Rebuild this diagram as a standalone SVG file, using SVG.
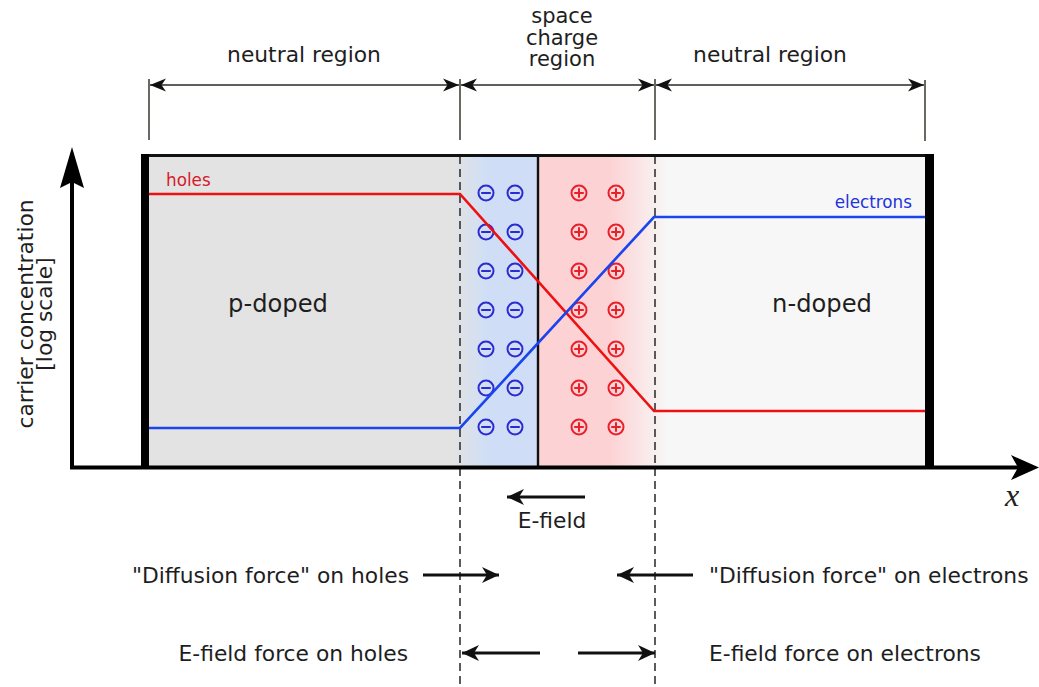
<svg xmlns="http://www.w3.org/2000/svg" width="1039" height="687" viewBox="0 0 1039 687">
<style>
.t{font-family:"DejaVu Sans","Liberation Sans",sans-serif;fill:#1e1e1e}
.t21{font-size:21.8px}
.sc{font-size:21px}
.dim{stroke:#2a2a22;stroke-width:1.4;fill:none}
.dash{stroke:#333;stroke-width:1.6;stroke-dasharray:8,5;fill:none}
.arr{stroke:#111;stroke-width:2.8;fill:none}
.neg{stroke:#2b2bd0;stroke-width:2;fill:none}
.pos{stroke:#e8202a;stroke-width:2;fill:none}
</style>
<defs>
<linearGradient id="gBlue" x1="0" y1="0" x2="1" y2="0">
<stop offset="0" stop-color="#e3e3e3"/>
<stop offset="0.42" stop-color="#cfdef6"/>
<stop offset="1" stop-color="#cfdef6"/>
</linearGradient>
<linearGradient id="gRed" x1="0" y1="0" x2="1" y2="0">
<stop offset="0" stop-color="#fdd2d4"/>
<stop offset="0.55" stop-color="#fdd2d4"/>
<stop offset="1" stop-color="#f7f7f7"/>
</linearGradient>
<marker id="dimA" markerUnits="userSpaceOnUse" markerWidth="20" markerHeight="16" viewBox="-18 -8 20 16" refX="0" refY="0" orient="auto-start-reverse" overflow="visible">
<path d="M0,0 L-16,-6.5 L-11.5,0 L-16,6.5 Z" fill="#111"/>
</marker>
<marker id="fA" markerUnits="userSpaceOnUse" markerWidth="20" markerHeight="18" viewBox="-18 -9 20 18" refX="0" refY="0" orient="auto" overflow="visible">
<path d="M0,0 L-17,-8 L-12,0 L-17,8 Z" fill="#111"/>
</marker>
<g id="minus"><circle r="7.5" class="neg"/><line x1="-4.8" y1="0" x2="4.8" y2="0" class="neg"/></g>
<g id="plus"><circle r="7.5" class="pos"/><line x1="-4.8" y1="0" x2="4.8" y2="0" class="pos"/><line x1="0" y1="-4.8" x2="0" y2="4.8" class="pos"/></g>
</defs>
<rect width="1039" height="687" fill="#fff"/>

<g id="p-region">
<rect x="145" y="155" width="315" height="312" fill="#e3e3e3"/>
<text class="t" x="278" y="312" font-size="24.2" text-anchor="middle">p-doped</text>
</g>
<g id="n-region">
<rect x="655" y="155" width="275" height="312" fill="#f7f7f7"/>
<text class="t" x="822" y="312" font-size="24.2" text-anchor="middle">n-doped</text>
</g>
<g id="depletion-negative">
<rect x="452" y="155" width="86" height="312" fill="url(#gBlue)"/>
</g>
<g id="depletion-positive">
<rect x="538" y="155" width="130" height="312" fill="url(#gRed)"/>
</g>

<g id="junction">
<line x1="538" y1="155" x2="538" y2="467" stroke="#111" stroke-width="2.4"/>
</g>

<g id="connectors">
<line class="dash" x1="460" y1="156" x2="460" y2="687"/>
<line class="dash" x1="655" y1="156" x2="655" y2="687"/>
<line class="dim" x1="149" y1="79" x2="149" y2="140"/>
<line class="dim" x1="460" y1="79" x2="460" y2="140"/>
<line class="dim" x1="655" y1="79" x2="655" y2="140"/>
<line class="dim" x1="925" y1="80" x2="925" y2="141"/>
<line class="dim" x1="150" y1="85" x2="459" y2="85" marker-start="url(#dimA)" marker-end="url(#dimA)"/>
<line class="dim" x1="461" y1="85" x2="654" y2="85" marker-start="url(#dimA)" marker-end="url(#dimA)"/>
<line class="dim" x1="656" y1="85" x2="924" y2="85" marker-start="url(#dimA)" marker-end="url(#dimA)"/>
<line class="arr" x1="585" y1="497" x2="507" y2="497" marker-end="url(#fA)"/>
<line class="arr" x1="423" y1="575" x2="499" y2="575" marker-end="url(#fA)"/>
<line class="arr" x1="693" y1="575" x2="617" y2="575" marker-end="url(#fA)"/>
<line class="arr" x1="540" y1="653" x2="462" y2="653" marker-end="url(#fA)"/>
<line class="arr" x1="578" y1="653" x2="655" y2="653" marker-end="url(#fA)"/>
</g>

<g id="charges">
<use href="#minus" x="486" y="193"/><use href="#minus" x="515" y="193"/>
<use href="#minus" x="486" y="232"/><use href="#minus" x="515" y="232"/>
<use href="#minus" x="486" y="271"/><use href="#minus" x="515" y="271"/>
<use href="#minus" x="486" y="310"/><use href="#minus" x="515" y="310"/>
<use href="#minus" x="486" y="349"/><use href="#minus" x="515" y="349"/>
<use href="#minus" x="486" y="388"/><use href="#minus" x="515" y="388"/>
<use href="#minus" x="486" y="427"/><use href="#minus" x="515" y="427"/>
<use href="#plus" x="579" y="193"/><use href="#plus" x="616" y="193"/>
<use href="#plus" x="579" y="232"/><use href="#plus" x="616" y="232"/>
<use href="#plus" x="579" y="271"/><use href="#plus" x="616" y="271"/>
<use href="#plus" x="579" y="310"/><use href="#plus" x="616" y="310"/>
<use href="#plus" x="579" y="349"/><use href="#plus" x="616" y="349"/>
<use href="#plus" x="579" y="388"/><use href="#plus" x="616" y="388"/>
<use href="#plus" x="579" y="427"/><use href="#plus" x="616" y="427"/>
</g>

<g id="holes-curve">
<polyline points="149,194 460,194 654,411 925,411" fill="none" stroke="#ee1111" stroke-width="2.6"/>
<text class="t" x="166" y="186" font-size="16.8" style="fill:#d41a2a">holes</text>
</g>
<g id="electrons-curve">
<polyline points="149,428 460,428 654,217 925,217" fill="none" stroke="#1a44ee" stroke-width="2.6"/>
<text class="t" x="912" y="208" font-size="16.8" text-anchor="end" style="fill:#2233dd">electrons</text>
</g>

<g id="box-frame">
<line x1="141" y1="155.5" x2="934" y2="155.5" stroke="#111" stroke-width="3"/>
<rect x="141" y="154" width="8" height="314" fill="#000"/>
<rect x="925" y="154" width="9" height="314" fill="#000"/>
</g>

<g id="axes">
<line x1="72" y1="469" x2="72" y2="175" stroke="#000" stroke-width="4"/>
<path d="M72,147 L84,188 L72,182 L60,188 Z" fill="#000"/>
<line x1="70" y1="467.5" x2="1020" y2="467.5" stroke="#000" stroke-width="4"/>
<path d="M1039,467.5 L1011,480 L1018,467.5 L1011,455 Z" fill="#000"/>
<text x="1012" y="506" font-family="'Liberation Serif','DejaVu Serif',serif" font-style="italic" font-size="32" text-anchor="middle" fill="#222">x</text>
<text class="t t21" transform="translate(33,314) rotate(-90)" text-anchor="middle">carrier concentration</text>
<text class="t t21" transform="translate(52,314) rotate(-90)" text-anchor="middle">[log scale]</text>
</g>

<g id="region-labels">
<text class="t t21" x="304" y="62" text-anchor="middle">neutral region</text>
<text class="t t21" x="770" y="62" text-anchor="middle">neutral region</text>
<text class="t sc" x="562" y="23" text-anchor="middle">space</text>
<text class="t sc" x="562" y="44.5" text-anchor="middle">charge</text>
<text class="t sc" x="562" y="66" text-anchor="middle">region</text>
</g>

<g id="force-labels">
<text class="t t21" x="552" y="528" text-anchor="middle">E-field</text>
<text class="t t21" x="409" y="583" text-anchor="end">"Diffusion force" on holes</text>
<text class="t t21" x="709" y="583">"Diffusion force" on electrons</text>
<text class="t t21" x="408" y="661" text-anchor="end">E-field force on holes</text>
<text class="t t21" x="709" y="661">E-field force on electrons</text>
</g>
</svg>
